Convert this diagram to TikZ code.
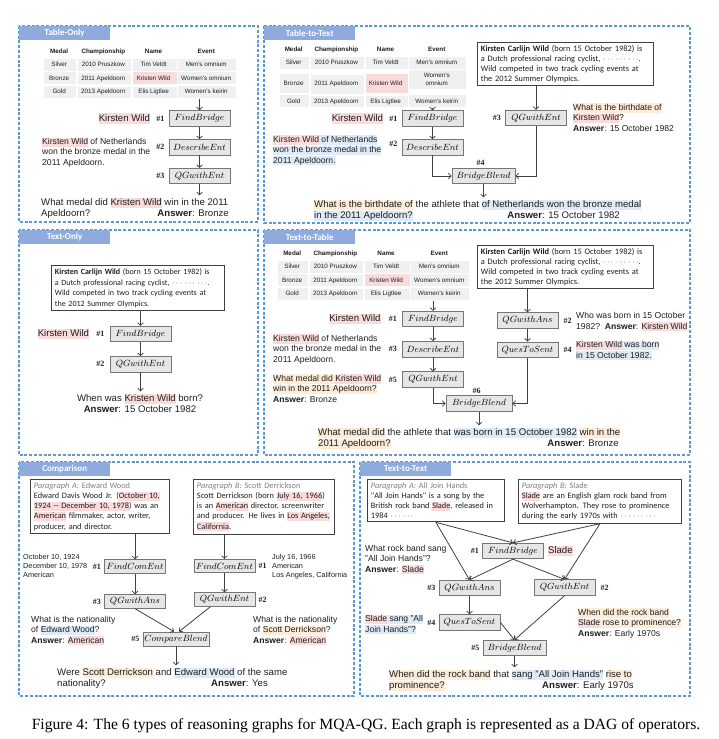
\documentclass[tikz,border=0pt]{standalone}
\usepackage{fontspec}
\setmainfont{Liberation Sans}
\newfontfamily\parafont{Carlito}
\newfontfamily\capfont{Liberation Serif}
\usetikzlibrary{positioning, matrix, arrows.meta}
\definecolor{pblue}{RGB}{91,155,213}
\definecolor{tabblue}{RGB}{143,170,220}
\definecolor{hlpink}{RGB}{250,219,219}
\definecolor{hlblue}{RGB}{222,235,247}
\definecolor{hlorange}{RGB}{253,236,215}
\definecolor{opfill}{RGB}{231,230,230}
\definecolor{opline}{RGB}{118,118,118}
\definecolor{darkline}{RGB}{64,64,64}
\definecolor{tblgray}{RGB}{239,240,242}
\definecolor{txtc}{RGB}{30,30,30}

\newcommand{\hl}[2]{{\setlength{\fboxsep}{0pt}\colorbox{#1}{\rule[-0.27em]{0pt}{1.1em}#2}}}
\newcommand{\hlp}[1]{\hl{hlpink}{#1}}
\newcommand{\hlb}[1]{\hl{hlblue}{#1}}
\newcommand{\hlo}[1]{\hl{hlorange}{#1}}
\newcommand{\ans}[1]{\textbf{Answer}: #1}
\newcommand{\paraof}[2]{{\color{gray}\textit{Paragraph #1:} #2}}
\newcommand{\ellip}{$\cdots$ $\cdots$ $\cdots$}

\tikzset{
  panel/.style={draw=pblue, line width=1.1pt, dash pattern=on 3pt off 1.8pt},
  tab/.style={fill=tabblue, text=white, anchor=north west, inner sep=0pt,
    minimum width=91pt, minimum height=13.5pt,
    font=\parafont\bfseries\fontsize{9}{10}\selectfont},
  op/.style={draw=opline, fill=opfill, line width=0.8pt, minimum width=61pt,
    minimum height=15.5pt, inner xsep=1.5pt, inner ysep=0pt,
    font=\fontsize{9.4}{11}\selectfont},
  para/.style={draw=darkline, line width=0.9pt, fill=white, align=left,
    anchor=north west, inner xsep=3.5pt, inner ysep=3pt, text=txtc,
    font=\parafont\fontsize{8.3}{10.2}\selectfont},
  txt/.style={inner sep=0pt, align=left, text=txtc,
    font=\fontsize{9.6}{11}\selectfont},
  ann/.style={txt, font=\fontsize{8.6}{10.2}\selectfont},
  small/.style={txt, font=\fontsize{7.3}{9}\selectfont},
  hsh/.style={inner sep=0pt, text=txtc, font=\capfont\bfseries\fontsize{8}{9}\selectfont},
  arr/.style={draw=darkline, line width=0.8pt, -{Straight Barb[length=2.6pt,width=5.5pt]}},
  tcell/.style={draw=white, line width=0.7pt, fill=tblgray, inner sep=0pt,
    minimum height=12.5pt, align=center, text=txtc, font=\fontsize{6.3}{7}\selectfont},
  medal/.style n args={4}{matrix of nodes, anchor=north west, inner sep=0pt,
    column sep=0pt, row sep=0pt, nodes={tcell},
    column 1/.style={nodes={minimum width=#1}},
    column 2/.style={nodes={minimum width=#2}},
    column 3/.style={nodes={minimum width=#3}},
    column 4/.style={nodes={minimum width=#4}},
    row 1/.style={nodes={fill=white, font=\fontsize{6.3}{7}\selectfont\bfseries}}},
}

\begin{document}
\begin{tikzpicture}[x=1pt, y=-1pt]
\useasboundingbox (0,0) rectangle (718,739);

% panels and their tabs
\draw[panel] (19,26) rectangle (258,222);
\draw[panel] (264,26) rectangle (690,223);
\draw[panel] (19,230) rectangle (258,455);
\draw[panel] (264,230) rectangle (690,455);
\draw[panel] (19,462) rectangle (354,696);
\draw[panel] (360,462) rectangle (690,696);
\node[tab] (tab1) at (19,26) {Table-Only};
\node[tab] (tab2) at (264,26) {Table-to-Text};
\node[tab] (tab3) at (19,230) {Text-Only};
\node[tab] (tab4) at (264,230) {Text-to-Table};
\node[tab] (tab5) at (19,462) {Comparison};
\node[tab] (tab6) at (360,462) {Text-to-Text};

% Table-Only
\matrix[medal={33pt}{54pt}{45pt}{59pt}] (t1) at (43,44) {
  Medal & Championship & Name & Event \\
  Silver & 2010 Pruszkow & Tim Veldt & Men's omnium \\
  Bronze & 2011 Apeldoorn & |[fill=hlpink]| Kristen Wild & Women's omnium \\
  Gold & 2013 Apeldoorn & Elis Ligtlee & Women's keirin \\
};
\node[op] (fb1) at (199.5,118.5) {$FindBridge$};
\node[op, below=12.5pt of fb1] (de1) {$DescribeEnt$};
\node[op, below=12.5pt of de1] (qg1) {$QGwithEnt$};
\node[hsh, left=4pt of fb1] (h11) {\#1};
\node[hsh, left=4pt of de1] (h12) {\#2};
\node[hsh, left=4pt of qg1] (h13) {\#3};
\node[txt, left=6pt of h11] (k1) {\hlp{Kirsten Wild}};
\node[ann, anchor=base west] (d1) at (42,165.1)
  {\hlp{Kirsten Wild} of Netherlands\\won the bronze medal in the\\2011 Apeldoorn.};
\node[txt, anchor=base west] (q1) at (41,216.5)
  {What medal did \hlp{Kristen Wild} win in the 2011\\Apeldoorn?};
\node[txt, anchor=base east] (a1) at (229,216.5) {\ans{Bronze}};
\draw[arr] (t1.south -| fb1) -- (fb1);
\draw[arr] (fb1) -- (de1);
\draw[arr] (de1) -- (qg1);
\draw[arr] (qg1) -- ([yshift=2pt]qg1 |- q1.north);

% Table-to-Text
\matrix[medal={30pt}{54pt}{43pt}{58pt}, row 3/.style={nodes={minimum height=20pt}}] (t2) at (279,42) {
  Medal & Championship & Name & Event \\
  Silver & 2010 Pruszkow & Tim Veldt & Men's omnium \\
  Bronze & 2011 Apeldoorn & |[fill=hlpink]| Kristen Wild & \shortstack{Women's\\omnium} \\
  Gold & 2013 Apeldoorn & Elis Ligtlee & Women's keirin \\
};
\node[para, text width=169pt, font=\parafont\fontsize{8.35}{10}\selectfont] (p2) at (477,42)
  {\textbf{Kirsten Carlijn Wild} (born 15 October 1982) is\\a Dutch professional racing cyclist, \ellip.\\Wild competed in two track cycling events at\\the 2012 Summer Olympics.};
\node[op] (fb2) at (432.5,118.5) {$FindBridge$};
\node[op, below=12.5pt of fb2] (de2) {$DescribeEnt$};
\node[op] (qg2) at (536,118) {$QGwithEnt$};
\node[op, minimum width=63pt] (bb2) at (483.5,176) {$BridgeBlend$};
\node[hsh, left=4pt of fb2] (h21) {\#1};
\node[hsh, left=4pt of de2, yshift=3pt] (h22) {\#2};
\node[hsh, left=4pt of qg2] (h23) {\#3};
\node[hsh, above=2pt of bb2, xshift=-3pt] (h24) {\#4};
\node[txt, left=6pt of h21] (k2) {\hlp{Kirsten Wild}};
\node[ann, anchor=base west] (d2) at (273,163)
  {\hlp{Kirsten Wild}\hlb{ of Netherlands}\\\hlb{won the bronze medal in the}\\\hlb{2011 Apeldoorn.}};
\node[ann, anchor=base west] (a2) at (573,131)
  {\hlo{What is the birthdate of}\\\hlp{Kirsten Wild}?\\\ans{15 October 1982}};
\node[txt, anchor=base west] (q2) at (314,218.5)
  {\hlo{What is the birthdate of} the athlete that \hlb{of Netherlands won the bronze medal}\\\hlb{in the 2011 Apeldoorn?}};
\node[txt, anchor=base east] (a2q) at (620,218.5) {\ans{15 October 1982}};
\draw[arr] (t2.south -| fb2) -- (fb2);
\draw[arr] (fb2) -- (de2);
\draw[arr] (de2) |- (bb2);
\draw[arr] (p2.south -| qg2) -- (qg2);
\draw[arr] (qg2) |- (bb2);
\draw[arr] (bb2) -- ([yshift=2pt]bb2 |- q2.north);

% Text-Only
\node[para, text width=166pt, font=\parafont\fontsize{8}{10.7}\selectfont] (p3) at (51,265)
  {\textbf{Kirsten Carlijn Wild} (born 15 October 1982) is\\a Dutch professional racing cyclist, \ellip.\\Wild competed in two track cycling events at\\the 2012 Summer Olympics.};
\node[op] (fb3) at (140.5,334) {$FindBridge$};
\node[op, below=14pt of fb3] (qg3) {$QGwithEnt$};
\node[hsh, left=5pt of fb3] (h31) {\#1};
\node[hsh, left=5pt of qg3] (h32) {\#2};
\node[txt, left=7pt of h31] (k3) {\hlp{Kirsten Wild}};
\node[txt, align=center, anchor=base] (q3) at (140,412.5)
  {When was \hlp{Kristen Wild} born?\\\ans{15 October 1982}};
\draw[arr] (p3.south -| fb3) -- (fb3);
\draw[arr] (fb3) -- (qg3);
\draw[arr] (qg3) -- ([yshift=2pt]qg3 |- q3.north);

% Text-to-Table
\matrix[medal={31pt}{54pt}{46pt}{59pt}] (t4) at (277,246) {
  Medal & Championship & Name & Event \\
  Silver & 2010 Pruszkow & Tim Veldt & Men's omnium \\
  Bronze & 2011 Apeldoorn & |[fill=hlpink]| Kristen Wild & Women's omnium \\
  Gold & 2013 Apeldoorn & Elis Ligtlee & Women's keirin \\
};
\node[para, text width=169pt, font=\parafont\fontsize{8.35}{10}\selectfont] (p4) at (477,245)
  {\textbf{Kirsten Carlijn Wild} (born 15 October 1982) is\\a Dutch professional racing cyclist, \ellip.\\Wild competed in two track cycling events at\\the 2012 Summer Olympics.};
\node[op] (fb4) at (433,319) {$FindBridge$};
\node[op, below=14pt of fb4] (de4) {$DescribeEnt$};
\node[op, below=14pt of de4] (qg4) {$QGwithEnt$};
\node[op] (qa4) at (527.5,320.5) {$QGwithAns$};
\node[op, below=13pt of qa4] (qs4) {$QuesToSent$};
\node[op, minimum width=66pt] (bb4) at (479,403.5) {$BridgeBlend$};
\node[hsh, left=5pt of fb4] (h41) {\#1};
\node[hsh, left=5pt of de4] (h43) {\#3};
\node[hsh, left=5pt of qg4] (h45) {\#5};
\node[hsh, right=5pt of qa4] (h42) {\#2};
\node[hsh, right=5pt of qs4] (h44) {\#4};
\node[hsh, above=2pt of bb4, xshift=-2.5pt] (h46) {\#6};
\node[txt, left=8pt of h41] (k4) {\hlp{Kirsten Wild}};
\node[ann, anchor=base west] (d4) at (273,362)
  {\hlp{Kirsten Wild} of Netherlands\\won the bronze medal in the\\2011 Apeldoorn.};
\node[ann, anchor=base west] (a4) at (273,402)
  {\hlo{What medal did }\hlp{Kristen Wild}\\\hlo{win in the 2011 Apeldoorn?}\\\ans{Bronze}};
\node[ann, anchor=base west] (a42) at (576,329)
  {Who was born in 15 October\\1982?\ \ \ans{\hlp{Kirsten Wild}}};
\node[ann, anchor=base west] (a44) at (576,358)
  {\hlp{Kirsten Wild}\hlb{ was born}\\\hlb{in 15 October 1982.}};
\node[txt, anchor=base west] (q4) at (318,446.5)
  {\hlo{What medal did} the athlete that \hlb{was born in 15 October 1982} \hlo{win in the}\\\hlo{2011 Apeldoorn?}};
\node[txt, anchor=base east] (a4q) at (619,446.5) {\ans{Bronze}};
\draw[arr] (t4.south -| fb4) -- (fb4);
\draw[arr] (fb4) -- (de4);
\draw[arr] (de4) -- (qg4);
\draw[arr] (qg4) |- (bb4);
\draw[arr] (p4.south -| qa4) -- (qa4);
\draw[arr] (qa4) -- (qs4);
\draw[arr] (qs4) |- (bb4);
\draw[arr] (bb4) -- ([yshift=2pt]bb4 |- q4.north);

% Comparison
\node[para, text width=132pt] (pa5) at (30,479)
  {\paraof{A}{Edward Wood}\\Edward Davis Wood Jr. (\hlp{October 10,}\\\hlp{1924 -- December 10, 1978}) was an\\\hlp{American} filmmaker, actor, writer,\\producer, and director.};
\node[para, text width=134pt] (pb5) at (193,479)
  {\paraof{B}{Scott Derrickson}\\Scott Derrickson (born \hlp{July 16, 1966})\\is an \hlp{American} director, screenwriter\\and producer. He lives in \hlp{Los Angeles,}\\\hlp{California}.};
\node[op, minimum height=13.5pt] (fa5) at (135,566.5) {$FindComEnt$};
\node[op, minimum height=13.5pt] (qa5) at (135,601.5) {$QGwithAns$};
\node[op, minimum height=13.5pt] (fb5) at (224.5,566) {$FindComEnt$};
\node[op, minimum height=13.5pt] (qe5) at (224.5,599.5) {$QGwithEnt$};
\node[op, minimum height=14pt, minimum width=64pt] (cb5) at (176,639) {$CompareBlend$};
\node[hsh, left=3pt of fa5] (h51) {\#1};
\node[hsh, left=3pt of qa5] (h53) {\#3};
\node[hsh, right=3pt of fb5] (h5b) {\#1};
\node[hsh, right=3pt of qe5] (h52) {\#2};
\node[hsh, left=3pt of cb5] (h55) {\#5};
\node[small, anchor=base west] (ta5) at (23,577.6)
  {October 10, 1924\\December 10, 1978\\American};
\node[small, anchor=base west] (tb5) at (272,577.6)
  {July 16, 1966\\American\\Los Angeles, California};
\node[ann, anchor=base west] (c5a) at (31,643)
  {What is the nationality\\of \hlb{Edward Wood}?\\\ans{\hlp{American}}};
\node[ann, anchor=base west] (c5b) at (253,643)
  {What is the nationality\\of \hlo{Scott Derrickson}?\\\ans{\hlp{American}}};
\node[txt, anchor=base west] (q5) at (57,686.5)
  {Were \hlo{Scott Derrickson} and \hlb{Edward Wood} of the same\\nationality?};
\node[txt, anchor=base east] (a5q) at (268,686.5) {\ans{Yes}};
\draw[arr] (pa5.south -| fa5) -- (fa5);
\draw[arr] (fa5) -- (qa5);
\draw[arr] (qa5.south) -- ([xshift=-2pt]cb5.north);
\draw[arr] (pb5.south -| fb5) -- (fb5);
\draw[arr] (fb5) -- (qe5);
\draw[arr] ([xshift=-14pt]qe5.south) -- ([xshift=3pt]cb5.north);
\draw[arr] (cb5) -- ([yshift=2pt]cb5 |- q5.north);

% Text-to-Text
\node[para, text width=130pt] (pa6) at (367,479)
  {\paraof{A}{All Join Hands}\\"All Join Hands" is a song by the\\British rock band \hlp{Slade}, released in\\1984 $\cdots$ $\cdots$};
\node[para, text width=156pt] (pb6) at (518,479)
  {\paraof{B}{Slade}\\\hlp{Slade} are an English glam rock band from\\Wolverhampton. They rose to prominence\\during the early 1970s with \ellip};
\node[op] (fb6) at (513,551) {$FindBridge$};
\node[op] (qa6) at (469.5,588) {$QGwithAns$};
\node[op] (qe6) at (564.5,587.5) {$QGwithEnt$};
\node[op] (qs6) at (469.5,622.5) {$QuesToSent$};
\node[op, minimum width=63pt] (bb6) at (514.5,648) {$BridgeBlend$};
\node[hsh, left=3pt of fb6] (h61) {\#1};
\node[hsh, left=3pt of qa6] (h63) {\#3};
\node[hsh, right=5pt of qe6] (h62) {\#2};
\node[hsh, left=3pt of qs6] (h64) {\#4};
\node[hsh, left=3pt of bb6] (h65) {\#5};
\node[txt, right=4pt of fb6] (e6) {\hlp{Slade}};
\node[ann, anchor=base west] (a6) at (365,572)
  {What rock band sang\\"All Join Hands"?\\\ans{\hlp{Slade}}};
\node[ann, anchor=base west] (s6) at (365,632)
  {\hlp{Slade}\hlb{ sang "All}\\\hlb{Join Hands"?}};
\node[ann, anchor=base west] (w6) at (578,636)
  {\hlo{When did the rock band}\\\hlp{Slade}\hlo{ rose to prominence?}\\\ans{Early 1970s}};
\node[txt, anchor=base west] (q6) at (389,688.5)
  {\hlo{When did the rock band} that \hlb{sang "All Join Hands"} \hlo{rise to}\\\hlo{prominence?}};
\node[txt, anchor=base east] (a6q) at (634,688.5) {\ans{Early 1970s}};
\draw[arr] (pa6.south) -- (fb6.north);
\draw[arr] (pb6.south) -- (fb6.north);
\draw[arr] (pa6.south) -- (qa6.north);
\draw[arr] (pb6.south) -- (qe6.north);
\draw[arr] (fb6.south) -- (qa6.north);
\draw[arr] (fb6.south) -- (qe6.north);
\draw[arr] (qa6) -- (qs6);
\draw[arr] (qs6.east) -- (bb6.north);
\draw[arr] (qe6.south) -- (bb6.north);
\draw[arr] (bb6) -- ([yshift=2pt]bb6 |- q6.north);

\node[font=\capfont\fontsize{15.6}{18}\selectfont, text=black] (cap) at (366,726)
  {Figure 4: The 6 types of reasoning graphs for MQA-QG. Each graph is represented as a DAG of operators.};
\end{tikzpicture}
\end{document}
